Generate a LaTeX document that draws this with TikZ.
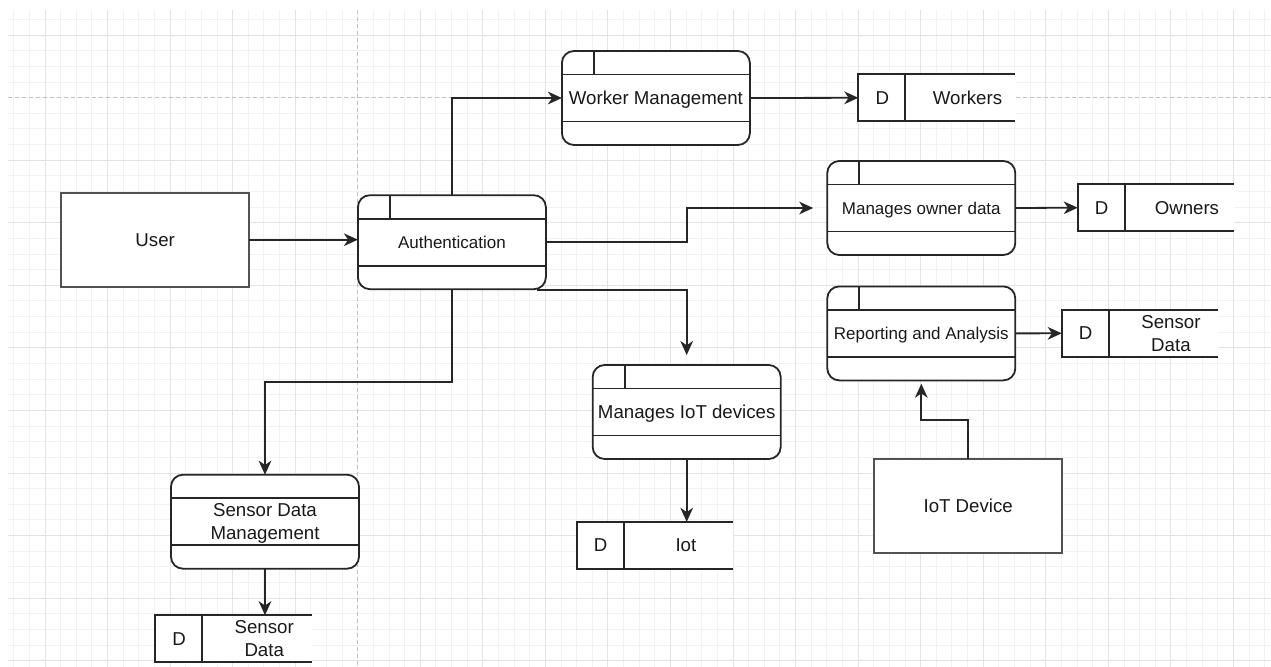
\documentclass[tikz,border=0pt]{standalone}
\usepackage{fontspec}
\setmainfont{Liberation Sans}
\usetikzlibrary{calc,arrows.meta}

\tikzset{
  gridminor/.style={draw=black!5, line width=0.75pt},
  gridmajor/.style={draw=black!11, line width=0.75pt},
  pagebreak/.style={draw=black!24, line width=0.75pt, dash pattern=on 3pt off 2.25pt},
  ink/.style={draw=black!85, line width=1.35pt},
  bigtext/.style={font=\fontsize{14}{17}\selectfont, text=black!90, text depth=0pt},
  small/.style={font=\fontsize{12.75}{15}\selectfont},
  entity/.style={rectangle, draw=black!68, fill=white, line width=1.7pt,
    minimum width=141pt, minimum height=70.5pt, inner sep=0pt, outer sep=0pt, bigtext},
  process/.style={rectangle, rounded corners=9pt, ink, fill=white,
    minimum width=141pt, minimum height=70.5pt, inner sep=0pt, outer sep=0pt,
    align=center, bigtext},
  storebox/.style={rectangle, draw=none, fill=white, minimum width=117.5pt,
    minimum height=35.25pt, inner sep=0pt, outer sep=0pt},
  storetext/.style={align=center, inner sep=0pt, bigtext},
  flow/.style={ink, -{Stealth[length=10.5pt,width=9.5pt,inset=3.2pt]}},
}

% horizontal bands of a process box
\newcommand\procbands[1]{%
  \draw[ink] ($(#1.north west)+(0,23.5)$) -- ($(#1.north east)+(0,23.5)$);
  \draw[ink] ($(#1.south west)+(0,-23.5)$) -- ($(#1.south east)+(0,-23.5)$);}
% small id divider in the top band
\newcommand\proctick[1]{%
  \draw[ink] ($(#1.north west)+(32,0)$) -- ($(#1.north west)+(32,23.5)$);}
% open-ended data store: name, centre x, centre y, label
\newcommand\datastore[4]{%
  \node[storebox] (#1) at (#2,#3) {};
  \draw[ink] (#1.north east) -- (#1.north west) -- (#1.south west) -- (#1.south east);
  \draw[ink] ($(#1.north west)+(47,0)$) -- ($(#1.south west)+(47,0)$);
  \node[storetext] (#1-d) at ($(#1.west)+(24,0)$) {D};
  \node[storetext] (#1-l) at ($(#1.west)+(109.2,0)$) {#4};}

\begin{document}
\begin{tikzpicture}[x=0.75pt,y=-0.75pt]
\useasboundingbox (0,0) rectangle (1271,667);
\fill[white] (0,0) rectangle (1271,667);

% background grid
\foreach \i [evaluate=\i as \gx using 13.725+\i*15.6375] in {0,...,80}
  \draw[gridminor] (\gx,10) -- (\gx,667);
\foreach \i [evaluate=\i as \gy using 19.5125+\i*15.6375] in {0,...,41}
  \draw[gridminor] (8,\gy) -- (1271,\gy);
\foreach \i [evaluate=\i as \gx using 45+\i*62.55] in {0,1,2,3,4,6,7,...,19}
  \draw[gridmajor] (\gx,10) -- (\gx,667);
\foreach \i [evaluate=\i as \gy using 35.15+\i*62.55] in {0,2,3,...,10}
  \draw[gridmajor] (8,\gy) -- (1271,\gy);
\draw[pagebreak] (357.75,10) -- (357.75,667);
\draw[pagebreak] (8,97.7) -- (1271,97.7);

% external entities
\node[entity] (user) at (155.2,239.7) {User};
\node[entity] (iotdev) at (968.2,505.9) {IoT Device};

% processes
\node[process,small] (auth) at (451.9,242.2) {Authentication};
\node[process] (wm) at (655.9,98) {Worker Management};
\node[process,small] (mod) at (921.3,208) {Manages owner data};
\node[process,small] (ra) at (921.3,333.4) {Reporting and Analysis};
\node[process] (sdm) at (265,521.7) {Sensor Data\\Management};
\node[process] (miot) at (686.7,412) {Manages IoT devices};
\foreach \p in {auth,wm,mod,ra,sdm,miot} {\procbands{\p}}
\foreach \p in {auth,wm,mod,ra,miot} {\proctick{\p}}

% data stores
\datastore{workers}{936.65}{97.8}{Workers}
\datastore{owners}{1156.05}{207.7}{Owners}
\datastore{sensr}{1140.05}{333.3}{Sensor\\Data}
\datastore{sensl}{233.35}{638.7}{Sensor\\Data}
\datastore{iot}{655.05}{545.3}{Iot}

% data flows
\draw[flow] (user.east) -- (user.east -| auth.west);
\draw[flow] (auth.north) |- (wm.west);
\draw[flow] (wm.east) -- (workers.west);
\draw[flow,shorten >=10.6pt] (auth.east) -| ($(auth.east)!.5!(mod.west)$) |- (mod.west);
\draw[flow] (mod.east) -- (owners.west);
\draw[flow] (ra.east) -- (sensr.west);
\coordinate (authexit) at ($(auth.south east)+(-9.3,0.7)$);
\draw[flow,shorten >=7.5pt] (authexit) -| (miot.north);
\draw[flow] (miot.south) -- (miot.south |- iot.north);
\draw[flow] (auth.south) |- ($(auth.south)!.5!(sdm.north)$) -| (sdm.north);
\draw[flow] (sdm.south) -- (sdm.south |- sensl.north);
\draw[flow,shorten >=2.5pt] (iotdev.north) |- ($(iotdev.north)!.5!(ra.south)$) -| (ra.south);
\end{tikzpicture}
\end{document}
